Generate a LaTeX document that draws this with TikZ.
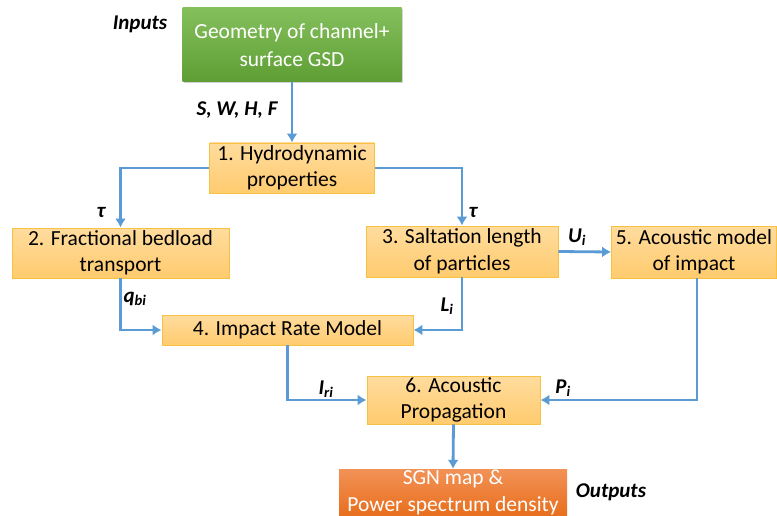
\documentclass[tikz,border=0pt]{standalone}
\usepackage{fontspec}
\setmainfont{Carlito}
\usetikzlibrary{arrows.meta,shadows}
\definecolor{flow}{HTML}{5B9BD5}
\definecolor{orbord}{HTML}{F7C243}
\definecolor{ortop}{HTML}{FFDC9E}
\definecolor{orbot}{HTML}{FFCB6E}
\definecolor{grtop}{HTML}{84BF5C}
\definecolor{grbot}{HTML}{5E9E34}
\definecolor{outtop}{HTML}{F29257}
\definecolor{outbot}{HTML}{E86E1C}
\tikzset{
  procbox/.style={draw=orbord, line width=0.8pt, top color=ortop, bottom color=orbot,
    align=center, inner sep=0pt, font=\fontsize{21.5}{26.5}\selectfont},
  inbox/.style={top color=grtop, bottom color=grbot, text=white, align=center, inner sep=0pt,
    drop shadow={shadow xshift=1pt, shadow yshift=-1.5pt, opacity=0.35},
    font=\fontsize{21.5}{27.5}\selectfont},
  outbox/.style={top color=outtop, bottom color=outbot, text=white, align=center, inner sep=0pt,
    font=\fontsize{21.5}{27}\selectfont},
  flowline/.style={draw=flow, line width=2.8pt, -{Latex[length=9pt,width=11pt]}},
  varlabel/.style={font=\fontsize{21}{24}\selectfont\bfseries\itshape, inner sep=0pt},
}
\begin{document}
\begin{tikzpicture}[x=1pt,y=-1pt]
\useasboundingbox (0,0) rectangle (777,516);

\node[inbox, minimum width=219pt, minimum height=74pt] (geo) at (292,45) {Geometry of channel+\\surface GSD};
\node[procbox, minimum width=165pt, minimum height=50pt] (b1) at (292,168) {1. Hydrodynamic\\properties};
\node[procbox, minimum width=217pt, minimum height=50pt] (b2) at (120.5,253) {2. Fractional bedload\\transport};
\node[procbox, minimum width=192pt, minimum height=51pt] (b3) at (462,251.5) {3. Saltation length\\of particles};
\node[procbox, minimum width=165pt, minimum height=52pt] (b5) at (694,252) {5. Acoustic model\\of impact};
\node[procbox, minimum width=251pt, minimum height=30pt] (b4) at (287.5,330) {4. Impact Rate Model};
\node[procbox, minimum width=173pt, minimum height=48pt] (b6) at (453.5,400) {6. Acoustic\\Propagation};
\node[outbox, minimum width=228pt, minimum height=47pt] (out) at (453,492.5) {SGN map \&\\Power spectrum density};

\node[varlabel] (lin) at (140,24) {Inputs};
\node[varlabel] (lout) at (611,492) {Outputs};
\node[varlabel] (lswhf) at (237,110) {S, W, H, F};
\node[varlabel] (ltau1) at (101,212) {τ};
\node[varlabel] (ltau2) at (473,212) {τ};
\node[varlabel] (lq) at (135,299) {q\textsubscript{bi}};
\node[varlabel] (ll) at (447,306) {L\textsubscript{i}};
\node[varlabel] (lu) at (577,237) {U\textsubscript{i}};
\node[varlabel] (lir) at (326,389) {I\textsubscript{ri}};
\node[varlabel] (lp) at (563,388) {P\textsubscript{i}};

\draw[flowline] (geo.south) -- (b1.north);
\draw[flowline] (b1.west) -| (b2.north);
\draw[flowline] (b1.east) -| (b3.north);
\draw[flowline] (b2.south) |- (b4.west);
\draw[flowline] (b3.south) |- (b4.east);
\draw[flowline] (b3.east) -- (b5.west);
\draw[flowline] ([xshift=3pt]b5.south) |- (b6.east);
\draw[flowline] (b4.south) |- (b6.west);
\draw[flowline] (b6.south) -- (out.north);
\end{tikzpicture}
\end{document}
